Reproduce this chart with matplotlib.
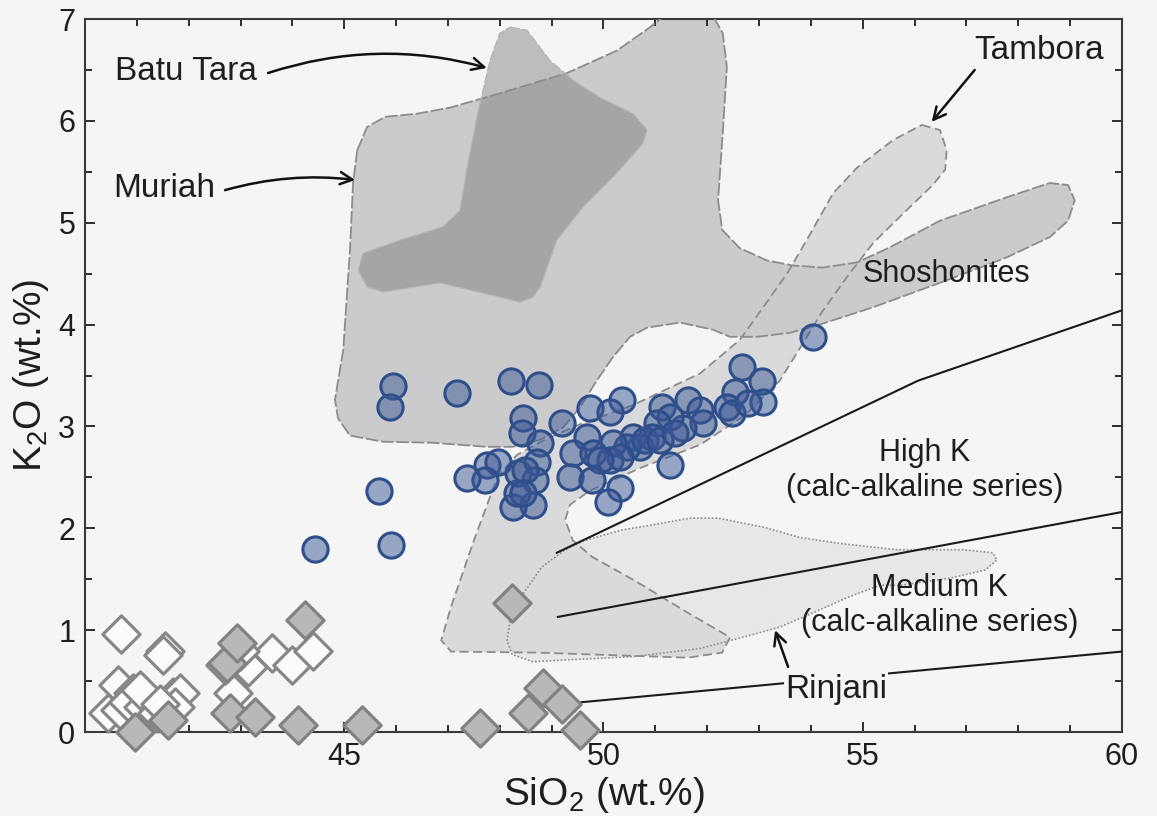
import numpy as np
import matplotlib
matplotlib.use('Agg')
import matplotlib.pyplot as plt
from matplotlib.patches import Polygon

plt.rcParams['font.family'] = ['Liberation Sans', 'DejaVu Sans']

# Circles: samples (SiO2, K2O wt.%)
circle_sio2 = [54.04, 45.94, 45.88, 47.17, 48.22, 48.76, 45.67, 45.90, 44.44, 48.45,
               48.43, 48.78, 49.20, 49.74, 50.36, 50.13, 52.67, 53.06, 52.54, 53.08,
               52.38, 52.48, 52.79, 51.13, 51.63, 51.86, 51.92, 51.53, 51.28, 51.03,
               50.94, 51.28, 50.57, 50.71, 50.45, 50.18, 49.68, 49.41, 49.80, 50.13,
               50.32, 49.93, 49.35, 49.78, 50.32, 50.09, 48.72, 48.68, 48.64, 48.25,
               48.33, 48.35, 48.49, 47.75, 47.96, 47.71, 47.37, 48.45, 50.80, 51.09,
               51.38]
circle_k2o = [3.88, 3.40, 3.19, 3.33, 3.45, 3.41, 2.37, 1.84, 1.80, 3.08,
              2.94, 2.84, 3.03, 3.18, 3.26, 3.14, 3.58, 3.45, 3.34, 3.24,
              3.19, 3.13, 3.23, 3.19, 3.26, 3.16, 3.03, 2.98, 3.09, 3.03,
              2.90, 2.62, 2.90, 2.80, 2.80, 2.84, 2.90, 2.74, 2.74, 2.67,
              2.70, 2.67, 2.50, 2.47, 2.40, 2.26, 2.65, 2.47, 2.23, 2.21,
              2.35, 2.54, 2.57, 2.62, 2.65, 2.47, 2.49, 2.35, 2.87, 2.87,
              2.94]

# Open diamonds
open_sio2 = [40.69, 41.54, 41.50, 40.64, 40.44, 40.67, 40.93, 40.83, 41.12, 41.70,
             41.58, 41.83, 41.39, 41.06, 41.74, 41.45, 42.85, 43.14, 43.61, 43.99,
             44.40, 42.70, 42.99]
open_k2o = [0.96, 0.80, 0.76, 0.46, 0.19, 0.22, 0.38, 0.29, 0.25, 0.34,
            0.25, 0.38, 0.19, 0.41, 0.25, 0.28, 0.38, 0.64, 0.78, 0.66,
            0.80, 0.66, 0.80]

# Grey diamonds
grey_sio2 = [44.24, 42.80, 43.28, 44.11, 45.34, 40.96, 42.74, 42.93, 41.60,
             48.24, 48.83, 48.54, 49.20, 49.55, 47.62]
grey_k2o = [1.10, 0.19, 0.15, 0.07, 0.07, 0.00, 0.68, 0.87, 0.12,
            1.27, 0.43, 0.19, 0.28, 0.02, 0.04]

# Field outlines (SiO2, K2O)
muriah = [(45.25, 5.71), (45.44, 5.94), (45.79, 6.04), (46.40, 6.07), (47.04, 6.13),
          (48.00, 6.27), (49.30, 6.47), (50.26, 6.69), (50.90, 6.92), (51.22, 7.05),
          (52.09, 7.05), (52.30, 6.86), (52.38, 6.53), (52.30, 5.88), (52.21, 5.22),
          (52.29, 4.93), (52.63, 4.75), (53.15, 4.63), (53.65, 4.58), (54.23, 4.56),
          (54.89, 4.61), (55.53, 4.76), (56.49, 5.02), (57.78, 5.25), (58.61, 5.39),
          (58.96, 5.37), (59.09, 5.22), (58.96, 5.02), (58.61, 4.86), (57.78, 4.66),
          (56.49, 4.41), (55.20, 4.17), (54.23, 4.01), (53.60, 3.92), (52.96, 3.88),
          (52.44, 3.88), (52.11, 3.95), (51.48, 4.02), (50.84, 3.97), (50.51, 3.88),
          (50.18, 3.68), (49.87, 3.45), (49.55, 3.19), (49.22, 2.99), (48.78, 2.87),
          (48.25, 2.80), (47.75, 2.80), (46.71, 2.84), (45.75, 2.85), (45.11, 2.91),
          (44.88, 3.08), (44.82, 3.26), (44.98, 3.75), (45.11, 4.73), (45.17, 5.39)]

tambora = [(56.14, 5.96), (56.49, 5.91), (56.62, 5.71), (56.59, 5.52), (56.35, 5.37),
           (55.78, 5.09), (55.20, 4.80), (54.70, 4.47), (54.21, 4.12), (53.79, 3.77),
           (53.40, 3.45), (52.73, 3.11), (51.86, 2.82), (50.70, 2.59), (49.74, 2.37),
           (49.35, 2.23), (49.26, 2.08), (49.41, 1.88), (49.78, 1.72), (50.59, 1.49),
           (51.63, 1.17), (52.44, 0.93), (52.29, 0.78), (51.63, 0.73), (48.68, 0.78),
           (47.06, 0.79), (46.87, 0.90), (47.06, 1.23), (47.50, 1.88), (47.95, 2.50),
           (48.33, 2.72), (48.87, 2.87), (49.49, 3.01), (50.57, 3.21), (51.86, 3.52),
           (52.63, 3.85), (53.15, 4.22), (53.54, 4.50), (53.92, 4.83), (54.43, 5.29),
           (54.89, 5.54), (55.58, 5.81)]

batu_tara = [(48.20, 6.92), (48.52, 6.89), (48.97, 6.59), (49.41, 6.40), (49.93, 6.23),
             (50.57, 6.07), (50.84, 5.91), (50.76, 5.78), (50.26, 5.49), (49.60, 5.15),
             (49.10, 4.83), (48.78, 4.37), (48.64, 4.27), (48.39, 4.22), (48.00, 4.27),
             (46.85, 4.41), (45.75, 4.32), (45.44, 4.37), (45.27, 4.53), (45.36, 4.70),
             (46.08, 4.83), (46.90, 4.96), (47.23, 5.12), (47.37, 5.54), (47.56, 6.04),
             (47.81, 6.59), (48.00, 6.86)]

rinjani = [(48.37, 1.30), (48.81, 1.62), (49.26, 1.79), (49.64, 1.88), (50.32, 1.98),
           (50.90, 2.03), (51.67, 2.10), (52.21, 2.10), (53.10, 2.01), (53.79, 1.91),
           (54.58, 1.85), (55.66, 1.79), (56.93, 1.79), (57.51, 1.76), (57.59, 1.69),
           (57.36, 1.59), (56.68, 1.51), (55.72, 1.44), (55.33, 1.44), (54.70, 1.32),
           (54.04, 1.17), (53.40, 1.03), (52.83, 0.95), (51.86, 0.82), (50.57, 0.74),
           (49.35, 0.71), (48.64, 0.69), (48.24, 0.76), (48.14, 0.90), (48.20, 1.10)]

# Series boundaries
shoshonite_line_x = [49.10, 56.07, 60.0]
shoshonite_line_y = [1.76, 3.45, 4.14]
highk_line_x = [49.12, 60.0]
highk_line_y = [1.13, 2.16]
mediumk_line_x = [49.10, 60.0]
mediumk_line_y = [0.27, 0.79]

bg = '#f5f5f6'
fig = plt.figure(figsize=(11.57, 8.16), dpi=100, facecolor=bg)
ax = fig.add_axes([0.0735, 0.1029, 0.8962, 0.8738])
ax.set_facecolor(bg)

# fills
ax.add_patch(Polygon(rinjani, closed=True, facecolor='#e7e7e9', edgecolor='none', zorder=0.8))
ax.add_patch(Polygon(tambora, closed=True, facecolor='#dadadc', edgecolor='none', zorder=1))
ax.add_patch(Polygon(muriah, closed=True, facecolor='#cbcbcd', edgecolor='none', zorder=1.2))
ax.add_patch(Polygon(batu_tara, closed=True, facecolor='#737373', alpha=0.43,
                     edgecolor='none', zorder=1.5))

# outlines
ax.add_patch(Polygon(muriah, closed=True, fill=False, edgecolor='#8c8c8c', lw=1.3,
                     linestyle=(0, (7, 1.5)), zorder=3))
ax.add_patch(Polygon(tambora, closed=True, fill=False, edgecolor='#8c8c8c', lw=1.3,
                     linestyle=(0, (5, 2.5)), zorder=3))
ax.add_patch(Polygon(batu_tara, closed=True, fill=False, edgecolor='#b5b5b5', lw=1.0,
                     linestyle=(0, (7, 1.5)), zorder=3))
ax.add_patch(Polygon(rinjani, closed=True, fill=False, edgecolor='#8c8c8c', lw=1.2,
                     linestyle=(0, (1, 1.2)), zorder=3))

# boundary lines
for lx, ly in [(shoshonite_line_x, shoshonite_line_y),
               (highk_line_x, highk_line_y),
               (mediumk_line_x, mediumk_line_y)]:
    ax.plot(lx, ly, color='#1a1a1a', lw=1.5, zorder=3.5)

# samples
ax.scatter(open_sio2, open_k2o, marker='D', s=360, facecolors='#fbfbfb',
           edgecolors='#878787', linewidths=2.3, zorder=4, clip_on=False)
ax.scatter(grey_sio2, grey_k2o, marker='D', s=360, facecolors='#b8b8b8',
           edgecolors='#828282', linewidths=2.3, zorder=4.2, clip_on=False)
ax.scatter(circle_sio2, circle_k2o, marker='o', s=330,
           facecolors=(0.235, 0.345, 0.59, 0.5), edgecolors='#2f4f8a',
           linewidths=2.2, zorder=5)

# labels and leaders
arrow_kw = dict(arrowstyle='->', color='#111111', lw=1.8, mutation_scale=22,
                shrinkA=0, shrinkB=0)
ax.text(40.58, 6.48, 'Batu Tara', fontsize=24, ha='left', va='center', color='#1e1e1e')
ax.annotate('', xy=(47.75, 6.52), xytext=(43.53, 6.47),
            arrowprops=dict(connectionstyle='arc3,rad=-0.15', **arrow_kw))
ax.text(40.54, 5.34, 'Muriah', fontsize=24, ha='left', va='center', color='#1e1e1e')
ax.annotate('', xy=(45.21, 5.42), xytext=(42.70, 5.32),
            arrowprops=dict(connectionstyle='arc3,rad=-0.1', **arrow_kw))
ax.text(57.16, 6.69, 'Tambora', fontsize=24, ha='left', va='center', color='#1e1e1e')
ax.annotate('', xy=(56.33, 5.99), xytext=(57.16, 6.50), arrowprops=arrow_kw)
ax.text(53.50, 0.42, 'Rinjani', fontsize=24, ha='left', va='center', color='#1e1e1e',
        zorder=6, bbox=dict(facecolor=bg, edgecolor='none', pad=1))
ax.annotate('', xy=(53.31, 1.00), xytext=(53.56, 0.64), arrowprops=arrow_kw)

ax.text(54.99, 4.50, 'Shoshonites', fontsize=22, ha='left', va='center', color='#1e1e1e', zorder=6)
ax.text(56.20, 2.57, 'High K\n(calc-alkaline series)', fontsize=22, ha='center',
        va='center', color='#1e1e1e', zorder=6)
ax.text(56.49, 1.24, 'Medium K\n(calc-alkaline series)', fontsize=22, ha='center',
        va='center', color='#1e1e1e', zorder=6)

# axes
ax.set_xlim(40, 60)
ax.set_ylim(0, 7)
ax.set_xticks([45, 50, 55, 60])
ax.set_xticks([v for v in range(41, 60) if v % 5 != 0], minor=True)
ax.set_yticks(range(0, 8))
ax.set_yticks(np.arange(0.5, 7, 1.0), minor=True)
ax.tick_params(which='both', direction='in', top=True, right=True,
               labelsize=22, colors='#1e1e1e', width=1.3)
ax.tick_params(which='major', length=7, pad=7)
ax.tick_params(which='minor', length=5)
for sp in ax.spines.values():
    sp.set_color('#3a3a3a')
    sp.set_linewidth(1.5)

ax.set_xlabel(r'SiO$\mathregular{_2}$ (wt.%)', fontsize=28, color='#1e1e1e', labelpad=2)
ax.set_ylabel(r'K$\mathregular{_2}$O (wt.%)', fontsize=28, color='#1e1e1e', labelpad=5)

fig.savefig('out.png', dpi=100, facecolor=bg)
